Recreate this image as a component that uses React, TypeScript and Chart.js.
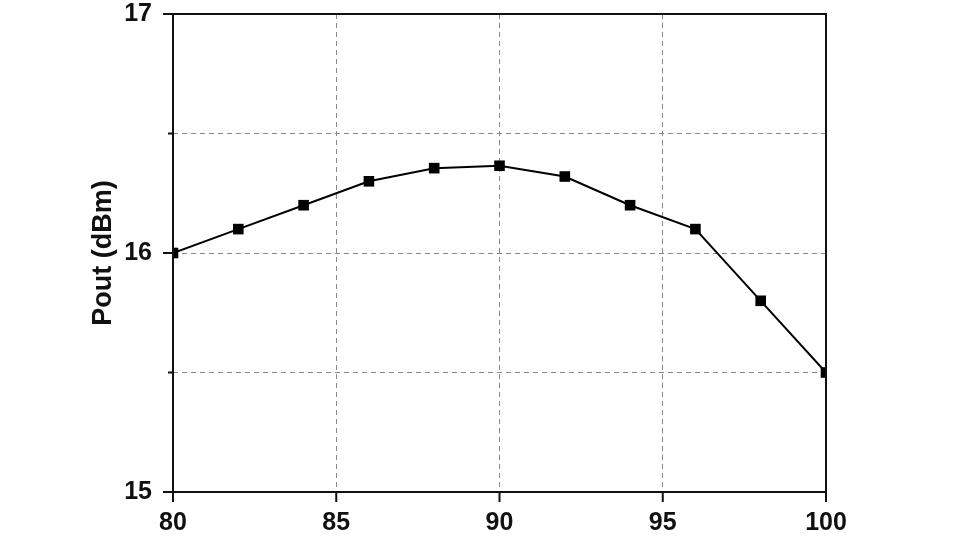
import React, { useEffect, useRef } from "react";
import { Chart, registerables } from "chart.js";

Chart.register(...registerables);

const frequency = [80, 82, 84, 86, 88, 90, 92, 94, 96, 98, 100];
const pout = [16.0, 16.1, 16.2, 16.3, 16.355, 16.365, 16.32, 16.2, 16.1, 15.8, 15.5];
const yMin = 15;
const yMax = 17;
const xMin = 80;
const xMax = 100;
const yTitle = "Pout (dBm)";

const framePlugin = {
  id: "frameTicks",
  afterDraw(chart: any) {
    const { ctx, chartArea } = chart;
    const { left, right, top, bottom } = chartArea;
    const xs = chart.scales.x;
    const ys = chart.scales.y;
    ctx.save();
    ctx.strokeStyle = "#111";
    ctx.lineWidth = 2;
    ctx.setLineDash([]);
    ctx.strokeRect(left, top, right - left, bottom - top);
    ctx.beginPath();
    for (let v = yMin; v <= yMax + 1e-9; v += 0.5) {
      const y = ys.getPixelForValue(v);
      const len = Math.abs(v % 1) < 1e-9 ? 10 : 5;
      ctx.moveTo(left - len, y);
      ctx.lineTo(left, y);
    }
    for (let v = xMin; v <= xMax + 1e-9; v += 5) {
      const x = xs.getPixelForValue(v);
      ctx.moveTo(x, bottom);
      ctx.lineTo(x, bottom + 10);
    }
    ctx.stroke();
    ctx.restore();
  },
};

export default function App() {
  const ref = useRef<HTMLCanvasElement>(null);
  useEffect(() => {
    const canvas = ref.current;
    if (!canvas) return;
    const font = { family: "'Liberation Sans', Arial, sans-serif", size: 25, weight: "bold" as const };
    const chart = new Chart(canvas, {
      type: "line",
      data: {
        datasets: [
          {
            data: frequency.map((f, i) => ({ x: f, y: pout[i] })),
            borderColor: "#000",
            backgroundColor: "#000",
            borderWidth: 2,
            pointStyle: "rect",
            pointRadius: 7.5,
            pointBorderWidth: 0,
            tension: 0,
            clip: 0,
          } as any,
        ],
      },
      options: {
        animation: false,
        responsive: false,
        maintainAspectRatio: false,
        layout: { padding: { left: 0, right: 134, top: 14, bottom: 0 } },
        plugins: { legend: { display: false }, tooltip: { enabled: false } },
        scales: {
          x: {
            type: "linear",
            min: xMin,
            max: xMax,
            border: { display: false, dash: [5, 4] },
            grid: {
              color: "#888",
              lineWidth: 1,
              drawTicks: true,
              tickLength: 10,
              tickColor: "rgba(0,0,0,0)",
            },
            ticks: { stepSize: 5, color: "#111", font, padding: 6, maxRotation: 0 },
            afterFit: (s: any) => {
              s.height = 48;
              s.paddingLeft = 0;
              s.paddingRight = 0;
            },
          } as any,
          y: {
            type: "linear",
            min: yMin,
            max: yMax,
            border: { display: false, dash: [5, 4] },
            grid: {
              color: "#888",
              lineWidth: 1,
              drawTicks: true,
              tickLength: 10,
              tickColor: "rgba(0,0,0,0)",
            },
            ticks: {
              stepSize: 0.5,
              color: "#111",
              font,
              padding: 11,
              callback: (v: any) => (Math.abs(v % 1) < 1e-9 ? String(v) : ""),
            },
            title: {
              display: true,
              text: yTitle,
              color: "#111",
              font: { family: "'Liberation Sans', Arial, sans-serif", size: 27, weight: "bold" },
              padding: { top: 87, bottom: 0 },
            },
            afterFit: (s: any) => {
              s.width = 173;
              s.paddingTop = 0;
              s.paddingBottom = 0;
            },
          } as any,
        },
      },
      plugins: [framePlugin],
    });
    return () => chart.destroy();
  }, []);
  return (
    <div style={{ position: "fixed", left: 0, top: 0, width: 960, height: 540, background: "#fff" }}>
      <canvas ref={ref} width={960} height={540} style={{ width: 960, height: 540 }} />
    </div>
  );
}
